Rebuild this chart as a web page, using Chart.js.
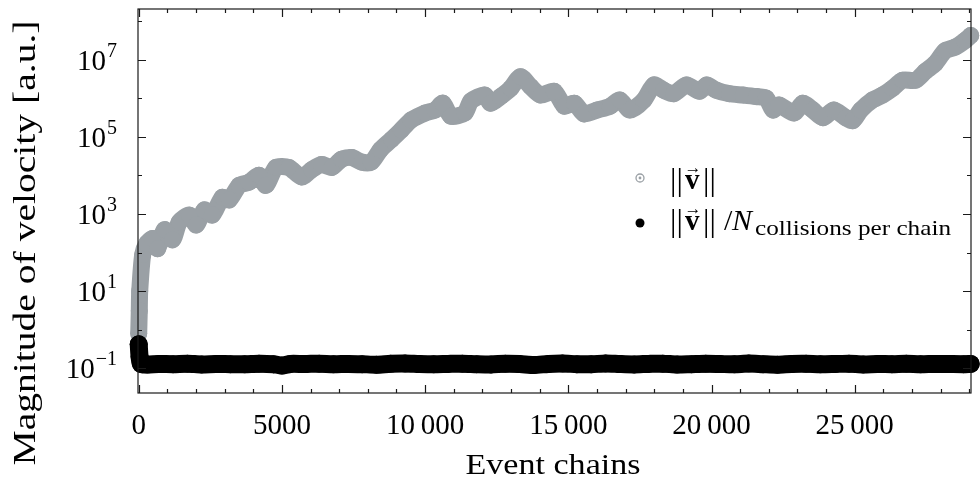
<!DOCTYPE html>
<html>
<head>
<meta charset="utf-8">
<script src="https://cdn.jsdelivr.net/npm/chart.js@4/dist/chart.umd.min.js"></script>
<style>
  html, body { margin: 0; padding: 0; background: #fff; }
  canvas { display: block; }
</style>
</head>
<body>
<canvas id="chartCanvas" width="980" height="485"></canvas>
<script>
// |v| per event chain
const speedChains = [
  0, 20, 35, 140, 280, 490, 660, 900, 1180, 1420,
  1770, 2010, 2290, 2570, 2920, 3160, 3510, 3850, 4200, 4440,
  4790, 5240, 5690, 6040, 6390, 6740, 7080, 7430, 7780, 8120,
  8440, 8820, 9170, 9510, 10000, 10350, 10620, 10900, 11390, 11600,
  12080, 12290, 12640, 12990, 13330, 13680, 14030, 14510, 14860, 15210,
  15550, 16010, 16460, 16800, 17150, 17640, 17990, 18330, 18680, 19130,
  19580, 19830, 20170, 20620, 21110, 21560, 21910, 22150, 22360, 22880,
  23190, 23540, 23890, 24270, 24690, 24930, 25210, 25620, 25970, 26320,
  26670, 27120, 27460, 27810, 28160, 28510, 28850, 29050
];
const speedValues = [
  0.8, 3.1, 10, 89, 170, 230, 126, 390, 215, 620,
  930, 520, 1260, 940, 2700, 2300, 5500, 6600, 1.0e4, 5500,
  1.6e4, 1.6e4, 9000, 1.4e4, 1.9e4, 1.6e4, 2.6e4, 2.9e4, 2.2e4, 2.2e4,
  4.6e4, 8.4e4, 1.5e5, 2.7e5, 4.1e5, 4.9e5, 7.4e5, 3.4e5, 4.1e5, 8.4e5,
  1.2e6, 7.4e5, 1.1e6, 1.8e6, 3.6e6, 2.0e6, 1.2e6, 1.5e6, 6.2e5, 7.4e5,
  3.9e5, 4.9e5, 6.2e5, 8.9e5, 4.9e5, 8.9e5, 2.2e6, 1.6e6, 1.3e6, 2.2e6,
  1.5e6, 2.2e6, 1.6e6, 1.3e6, 1.2e6, 1.1e6, 1.0e6, 4.9e5, 6.6e5, 4.1e5,
  7.4e5, 4.9e5, 3.1e5, 4.9e5, 3.1e5, 2.6e5, 4.9e5, 8.9e5, 1.2e6, 1.8e6,
  2.9e6, 2.9e6, 4.9e6, 7.9e6, 1.7e7, 2.1e7, 3.1e7, 4.2e7
];

// |v| / N_collisions per chain
const perCollisionChains = [
  0, 30, 80, 300, 700, 1200, 1700, 2200, 2700, 3200,
  3700, 4200, 4700, 5000, 5300, 5800, 6300, 6800, 7300, 7800,
  8300, 8800, 9300, 9800, 10300, 10800, 11300, 11800, 12300, 12800,
  13300, 13800, 14300, 14800, 15300, 15800, 16300, 16800, 17300, 17800,
  18300, 18800, 19300, 19800, 20300, 20800, 21300, 21800, 22300, 22800,
  23300, 23800, 24300, 24800, 25300, 25800, 26300, 26800, 27300, 27800,
  28300, 28800, 29050
];
const perCollisionValues = [
  0.42, 0.2, 0.13, 0.125, 0.13, 0.128, 0.132, 0.126, 0.13, 0.128,
  0.127, 0.131, 0.128, 0.118, 0.13, 0.129, 0.132, 0.127, 0.13, 0.128,
  0.124, 0.131, 0.133, 0.129, 0.127, 0.13, 0.132, 0.128, 0.126, 0.131,
  0.129, 0.122, 0.13, 0.133, 0.128, 0.127, 0.134, 0.129, 0.126, 0.13,
  0.132, 0.125, 0.128, 0.131, 0.129, 0.127, 0.133, 0.128, 0.124, 0.13,
  0.131, 0.127, 0.129, 0.132, 0.126, 0.13, 0.128, 0.131, 0.127, 0.13,
  0.129, 0.128, 0.13
];

const xMajorTicks = [0, 5000, 10000, 15000, 20000, 25000];
const xTickLabels = ["0", "5000", "10\u2009000", "15\u2009000", "20\u2009000", "25\u2009000"];
const yLabelExponents = [-1, 1, 3, 5, 7];

const GRAY = "rgb(154,160,165)";
const SERIF = "'Liberation Serif', 'DejaVu Serif', serif";

const toPoints = (xs, ys) => xs.map((x, i) => ({ x: x, y: ys[i] }));

// draw text stretched horizontally to a given width
const fitText = (ctx, text, x, y, width) => {
  const w = ctx.measureText(text).width;
  ctx.save();
  ctx.translate(x, y);
  ctx.scale(width / w, 1);
  ctx.fillText(text, 0, 0);
  ctx.restore();
};

// frame, inward ticks, labels and legend
const decorations = {
  id: "decorations",
  afterDraw(chart) {
    const ctx = chart.ctx;
    const { left, right, top, bottom } = chart.chartArea;
    const xs = chart.scales.x;
    const ys = chart.scales.y;

    ctx.save();
    ctx.strokeStyle = "#1a1a1a";
    ctx.lineWidth = 1.2;
    ctx.strokeRect(left, top, right - left, bottom - top);

    ctx.beginPath();
    for (let v = 0; v <= 29000; v += 1000) {
      const px = Math.round(xs.getPixelForValue(v)) + 0.5;
      const len = v % 5000 === 0 ? 8 : 4;
      ctx.moveTo(px, bottom); ctx.lineTo(px, bottom - len);
      ctx.moveTo(px, top); ctx.lineTo(px, top + len);
    }
    for (let e = -1; e <= 8; e++) {
      const py = Math.round(ys.getPixelForValue(Math.pow(10, e))) + 0.5;
      const len = Math.abs(e) % 2 === 1 ? 8 : 4;
      ctx.moveTo(left, py); ctx.lineTo(left + len, py);
      ctx.moveTo(right, py); ctx.lineTo(right - len, py);
    }
    ctx.stroke();

    ctx.fillStyle = "#000";
    ctx.font = "29px " + SERIF;
    ctx.textAlign = "center";
    ctx.textBaseline = "alphabetic";
    xMajorTicks.forEach((v, i) => {
      ctx.fillText(xTickLabels[i], xs.getPixelForValue(v), 434);
    });

    yLabelExponents.forEach((e) => {
      const py = ys.getPixelForValue(Math.pow(10, e));
      const sup = e < 0 ? "\u2212" + Math.abs(e) : String(e);
      ctx.font = "20px " + SERIF;
      const supW = ctx.measureText(sup).width;
      ctx.textAlign = "left";
      ctx.fillText(sup, 117 - supW, py - 3);
      ctx.font = "29px " + SERIF;
      ctx.textAlign = "right";
      ctx.fillText("10", 116 - supW, py + 10);
    });

    ctx.textAlign = "center";
    ctx.font = "30px " + SERIF;
    fitText(ctx, "Event chains", 553, 474, 175);
    ctx.save();
    ctx.translate(35, 243);
    ctx.rotate(-Math.PI / 2);
    ctx.font = "31px " + SERIF;
    fitText(ctx, "Magnitude of velocity [a.u.]", 0, 0, 445);
    ctx.restore();

    // legend
    ctx.strokeStyle = GRAY;
    ctx.fillStyle = GRAY;
    ctx.lineWidth = 1.3;
    ctx.beginPath();
    ctx.arc(640, 178, 4, 0, Math.PI * 2);
    ctx.stroke();
    ctx.beginPath();
    ctx.arc(640, 178, 1.4, 0, Math.PI * 2);
    ctx.fill();
    ctx.fillStyle = "#000";
    ctx.beginPath();
    ctx.arc(640, 223, 4.5, 0, Math.PI * 2);
    ctx.fill();

    const drawNorm = (baseline) => {
      ctx.textAlign = "left";
      ctx.font = "32px " + SERIF;
      ctx.fillText("||", 670, baseline + 1);
      ctx.fillText("||", 703, baseline + 1);
      ctx.font = "bold 29px " + SERIF;
      ctx.fillText("v", 685, baseline);
      ctx.font = "17px " + SERIF;
      ctx.textAlign = "center";
      ctx.fillText("\u2192", 693, baseline - 16);
      ctx.textAlign = "left";
    };
    drawNorm(189);
    drawNorm(230);
    ctx.font = "30px " + SERIF;
    ctx.fillText("/", 724, 230);
    ctx.font = "italic 30px " + SERIF;
    ctx.fillText("N", 732, 230);
    ctx.font = "21px " + SERIF;
    ctx.textAlign = "left";
    fitText(ctx, "collisions per chain", 755, 235, 196);
    ctx.restore();
  }
};

new Chart(document.getElementById("chartCanvas").getContext("2d"), {
  type: "line",
  data: {
    datasets: [
      {
        label: "|v| / N collisions per chain",
        data: toPoints(perCollisionChains, perCollisionValues),
        borderColor: "#000",
        backgroundColor: "#000",
        borderWidth: 18,
        pointRadius: 9,
        pointBorderWidth: 0,
        tension: 0.25,
        borderCapStyle: "round",
        borderJoinStyle: "round",
        clip: false,
        order: 0
      },
      {
        label: "|v|",
        data: toPoints(speedChains, speedValues),
        borderColor: GRAY,
        backgroundColor: GRAY,
        borderWidth: 17,
        pointRadius: 8.5,
        pointBorderWidth: 0,
        tension: 0.25,
        borderCapStyle: "round",
        borderJoinStyle: "round",
        clip: false,
        order: 1
      }
    ]
  },
  options: {
    responsive: false,
    animation: false,
    layout: { padding: { left: 138, right: 3, top: 5, bottom: 92 } },
    plugins: { legend: { display: false }, tooltip: { enabled: false } },
    scales: {
      x: { type: "linear", min: -25, max: 29060, display: false },
      y: { type: "logarithmic", min: 0.0229, max: 2.04e8, display: false }
    }
  },
  plugins: [decorations]
});
</script>
</body>
</html>
